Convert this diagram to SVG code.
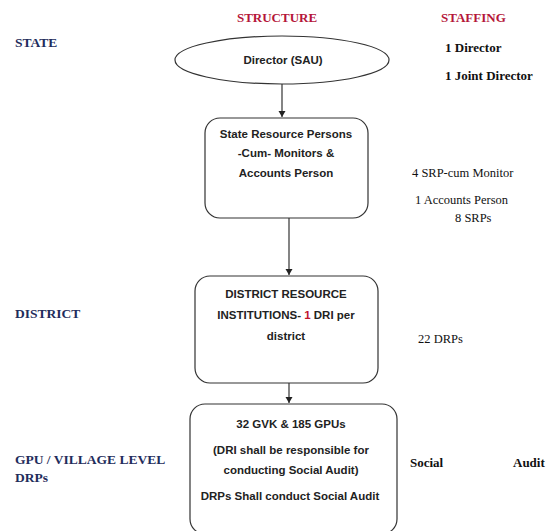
<svg xmlns="http://www.w3.org/2000/svg" width="547" height="531" viewBox="0 0 547 531">
<style>
.hdr{font-family:"Liberation Serif",serif;font-weight:bold;font-size:13px;fill:#b5163a}
.lvl{font-family:"Liberation Serif",serif;font-weight:bold;font-size:13.5px;fill:#1f2d5c}
.stf{font-family:"Liberation Serif",serif;font-weight:bold;font-size:13px;fill:#111}
.stn{font-family:"Liberation Serif",serif;font-size:12.5px;fill:#111}
.box{fill:#fff;stroke:#333;stroke-width:1.2}
.t{font-family:"Liberation Sans",sans-serif;font-weight:bold;font-size:11.5px;fill:#222;text-anchor:middle}
.con{stroke:#333;stroke-width:1.2;fill:none}
</style>
<defs>
<marker id="ah" markerWidth="8" markerHeight="8" refX="6" refY="4" orient="auto" markerUnits="userSpaceOnUse">
<path d="M0,0.5 L6,4 L0,7.5 Z" fill="#222"/>
</marker>
</defs>
<rect width="547" height="531" fill="#fff"/>
<g id="headers">
<text class="hdr" x="277" y="22" text-anchor="middle">STRUCTURE</text>
<text class="hdr" x="441" y="22">STAFFING</text>
</g>
<g id="levels">
<text class="lvl" x="15" y="47">STATE</text>
<text class="lvl" x="15" y="318">DISTRICT</text>
<text class="lvl" x="15" y="464">GPU / VILLAGE LEVEL</text>
<text class="lvl" x="15" y="482">DRPs</text>
</g>
<g id="staffing">
<text class="stf" x="445" y="52">1 Director</text>
<text class="stf" x="445" y="80">1 Joint Director</text>
<text class="stn" x="412" y="177" font-size="10.5">4 SRP-cum Monitor</text>
<text class="stn" x="415" y="204">1 Accounts Person</text>
<text class="stn" x="455" y="222">8 SRPs</text>
<text class="stn" x="418" y="343" font-size="11.5">22 DRPs</text>
<text class="stf" x="410" y="467" font-size="13.5">Social</text>
<text class="stf" x="513" y="467" font-size="13.5">Audit</text>
</g>
<g id="connectors">
<line class="con" x1="282" y1="84" x2="282" y2="117" marker-end="url(#ah)"/>
<line class="con" x1="289" y1="218" x2="289" y2="275" marker-end="url(#ah)"/>
<line class="con" x1="289" y1="383" x2="289" y2="403" marker-end="url(#ah)"/>
</g>
<g id="director">
<ellipse class="box" cx="282" cy="60" rx="107" ry="24"/>
<text class="t" x="283" y="64" font-size="12.5">Director (SAU)</text>
</g>
<g id="srp">
<rect class="box" x="205" y="118" width="163" height="100" rx="15"/>
<text class="t" x="286" y="138">State Resource Persons</text>
<text class="t" x="286" y="157">-Cum- Monitors &amp;</text>
<text class="t" x="286" y="177">Accounts Person</text>
</g>
<g id="dri">
<rect class="box" x="195" y="276" width="183" height="107" rx="15"/>
<text class="t" x="286" y="298">DISTRICT RESOURCE</text>
<text class="t" x="286" y="319">INSTITUTIONS- <tspan fill="#c0142c">1</tspan> DRI per</text>
<text class="t" x="286" y="340">district</text>
</g>
<g id="gpu">
<rect class="box" x="190" y="404" width="207" height="130" rx="15"/>
<text class="t" x="291" y="428">32 GVK &amp; 185 GPUs</text>
<text class="t" x="291" y="454">(DRI shall be responsible for</text>
<text class="t" x="291" y="474">conducting Social Audit)</text>
<text class="t" x="290" y="500">DRPs Shall conduct Social Audit</text>
</g>
</svg>
